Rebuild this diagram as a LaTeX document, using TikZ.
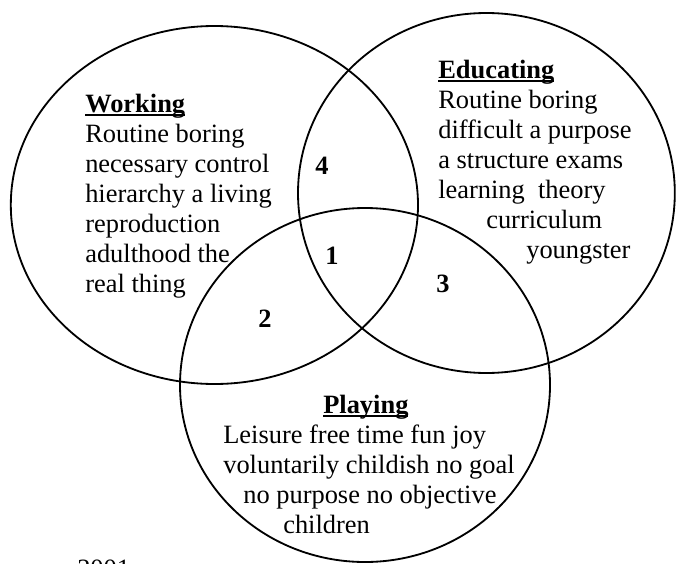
\documentclass[tikz,border=0pt]{standalone}
\usepackage{fontspec}
\setmainfont{Liberation Serif}
% bold heading with a close, heavy underline
\newcommand\headword[1]{\setbox0\hbox{\textbf{#1}}\rlap{\rule[-0.13em]{\wd0}{0.075em}}\box0}

\begin{document}
\begin{tikzpicture}[
  ring/.style={draw, line width=1.3pt},
  words/.style={anchor=north west, inner sep=0pt, align=left, font=\fontsize{18.8}{21.3}\selectfont},
  region/.style={anchor=base, inner sep=0pt, font=\fontsize{18.8}{21.3}\selectfont\bfseries}
]
\useasboundingbox (0,0) rectangle (16.9,14.075);
\draw[ring] (5.36,8.95) ellipse [x radius=5.09, y radius=4.475];
\draw[ring] (12.16,9.25) ellipse [x radius=4.71, y radius=4.5];
\draw[ring] (9.125,4.45) ellipse [x radius=4.625, y radius=4.425];

\node[words] (working) at (2.125,11.725) {\headword{Working}\\
Routine boring\\ necessary control\\ hierarchy a living\\ reproduction\\
adulthood the\\ real thing};
\node[words] (educating) at (10.95,12.575) {\headword{Educating}\\
Routine boring\\ difficult a purpose\\ a structure exams\\ learning\ \ theory\\
\hspace*{1.2cm}curriculum\\ \hspace*{2.2cm}youngster};
\node[words] (playing) at (5.575,4.2) {\hspace*{2.5cm}\headword{Playing}\\
Leisure free time fun joy\\ voluntarily childish no goal\\
\hspace*{0.5cm}no purpose no objective\\ \hspace*{1.5cm}children};

\node[region] (r4) at (8.05,9.725) {4};
\node[region] (r1) at (8.3,7.475) {1};
\node[region] (r3) at (11.075,6.775) {3};
\node[region] (r2) at (6.625,5.9) {2};

\node[words, anchor=base west] (year) at (1.925,-0.35) {2001};
\end{tikzpicture}
\end{document}
